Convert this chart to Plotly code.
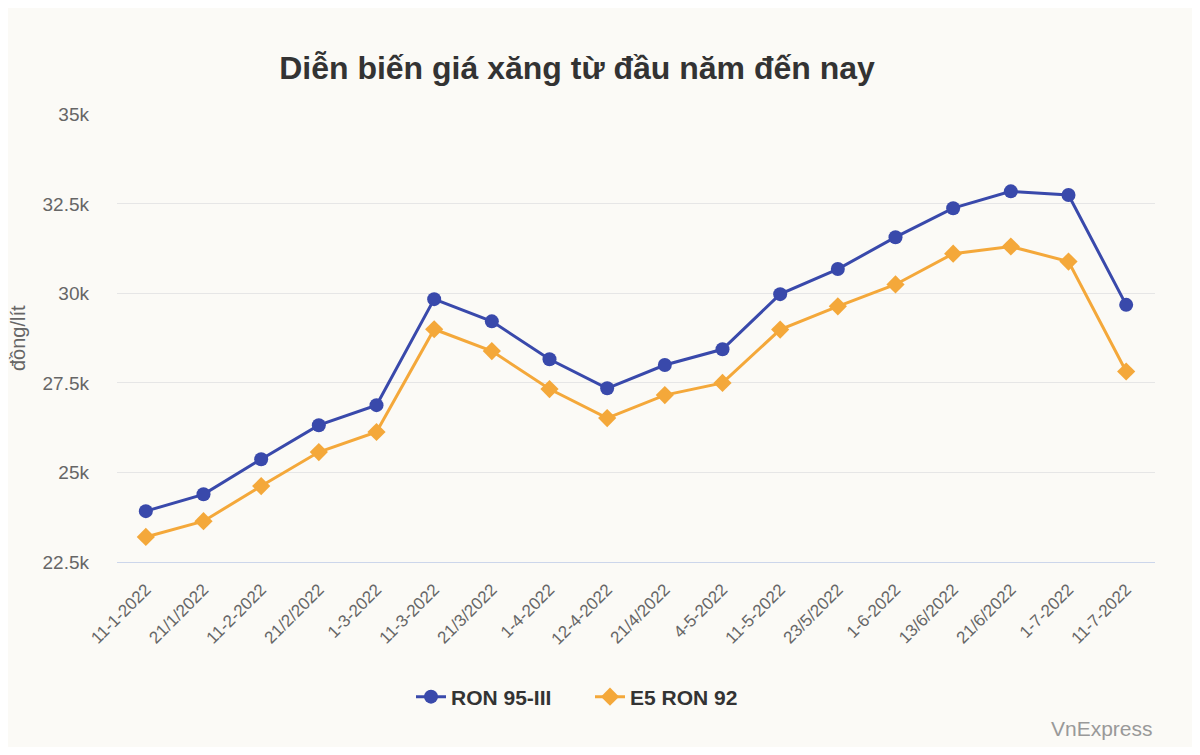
import plotly.graph_objects as go

dates = ["11-1-2022", "21/1/2022", "11-2-2022", "21/2/2022", "1-3-2022", "11-3-2022",
         "21/3/2022", "1-4-2022", "12-4-2022", "21/4/2022", "4-5-2022", "11-5-2022",
         "23/5/2022", "1-6-2022", "13/6/2022", "21/6/2022", "1-7-2022", "11-7-2022"]
ron95 = [23920, 24390, 25370, 26320, 26880, 29840, 29220, 28160, 27350, 28000,
         28440, 29980, 30680, 31570, 32380, 32850, 32750, 29680]
e5ron92 = [23200, 23640, 24620, 25570, 26130, 29000, 28390, 27330, 26520, 27160,
           27500, 28990, 29640, 30250, 31110, 31310, 30890, 27820]
ytick_vals = [22500, 25000, 27500, 30000, 32500, 35000]
ytick_text = ["22.5k", "25k", "27.5k", "30k", "32.5k", "35k"]

BG = "#fbfaf6"
FONT = "Liberation Sans, Arial, sans-serif"
W, H = 1184, 739  # page body has an 8px margin

fig = go.Figure()
fig.add_trace(go.Scatter(x=dates, y=ron95, name="RON 95-III", mode="lines+markers",
                         line=dict(color="#3949ab", width=3),
                         marker=dict(symbol="circle", size=14, color="#3949ab")))
fig.add_trace(go.Scatter(x=dates, y=e5ron92, name="E5 RON 92", mode="lines+markers",
                         line=dict(color="#f4a83a", width=3),
                         marker=dict(symbol="diamond", size=14, color="#f4a83a")))

fig.update_layout(
    width=W, height=H,
    paper_bgcolor=BG, plot_bgcolor=BG,
    margin=dict(l=109, r=37, t=106, b=185),
    font=dict(family=FONT, color="#666666"),
    title=dict(text="<b>Diễn biến giá xăng từ đầu năm đến nay</b>",
               xref="container", x=569/W, xanchor="center",
               yref="container", y=1-60/H, yanchor="middle",
               font=dict(size=32, color="#333333", family=FONT)),
    showlegend=True,
    legend=dict(orientation="h", xref="container", x=403/W, xanchor="left",
                yref="container", y=1-689/H, yanchor="middle",
                font=dict(size=21, color="#333333", family=FONT, weight="bold"),
                itemwidth=30, entrywidth=134, entrywidthmode="pixels",
                traceorder="normal", bgcolor="rgba(0,0,0,0)"),
    hovermode=False,
)
fig.update_xaxes(type="category", range=[-0.5, len(dates) - 0.5],
                 showgrid=False, showline=True, linecolor="#ccd6eb",
                 linewidth=1, tickangle=-45, tickfont=dict(size=17, color="#666666"),
                 ticks="", ticklabelstandoff=10, zeroline=False, fixedrange=True)
fig.update_yaxes(range=[22500, 35010], tickvals=ytick_vals, ticktext=ytick_text,
                 showgrid=True, gridcolor="#e6e6e6", gridwidth=1, zeroline=False,
                 tickfont=dict(size=19, color="#666666"), ticklabelstandoff=27,
                 showline=False, fixedrange=True)
fig.add_annotation(text="đồng/lít", textangle=-90, xref="paper", yref="paper",
                   x=(18-117)/1038, y=0.5, xanchor="center", yanchor="middle",
                   showarrow=False, font=dict(size=20, color="#666666", family=FONT))
fig.add_annotation(text="VnExpress", xref="paper", yref="paper",
                   x=1, y=(562-728)/448, xanchor="right", yanchor="middle",
                   showarrow=False, font=dict(size=21, color="#999999", family=FONT))

fig.write_html("out.html")
